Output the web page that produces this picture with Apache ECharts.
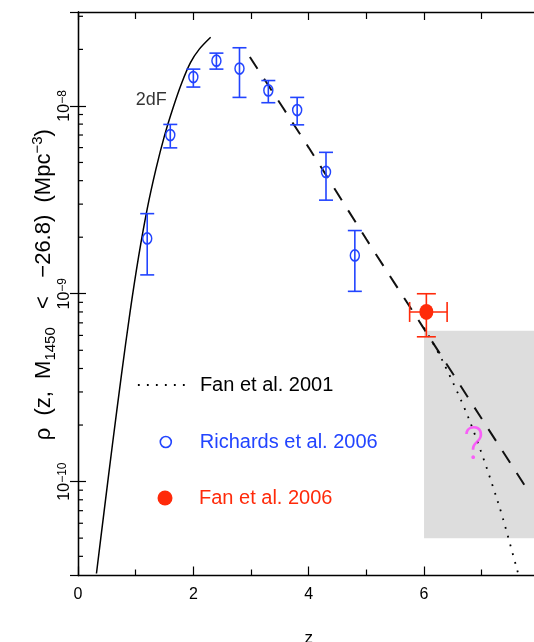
<!DOCTYPE html>
<html><head><meta charset="utf-8">
<script src="https://cdn.jsdelivr.net/npm/echarts@6/dist/echarts.min.js"></script>
<style>html,body{margin:0;padding:0;background:#fff;}#c{width:534px;height:642px;}</style>
</head><body><div id="c"></div>
<script>
// ---- data ----
const curve2dfZ   = [0.32, 0.45, 0.6, 0.75, 0.9, 1.05, 1.2, 1.35, 1.5, 1.65, 1.8, 1.95, 2.1, 2.3];
const curve2dfRho = [3.24e-11, 6.84e-11, 1.60e-10, 3.63e-10, 7.89e-10, 1.57e-9, 2.83e-9, 4.59e-9, 6.95e-9, 9.82e-9, 1.33e-8, 1.70e-8, 2.00e-8, 2.32e-8];

const dashedZ   = [2.98, 4.0, 5.0, 6.0, 7.0, 7.84];
const dashedRho = [1.82e-8, 6.0e-9, 1.95e-9, 6.5e-10, 2.16e-10, 8.6e-11];

const fan2001Z   = [6.0, 6.32, 6.79, 7.28, 7.6, 7.66];
const fan2001Rho = [6.6e-10, 4.4e-10, 2.11e-10, 7.8e-11, 3.52e-11, 3.0e-11];

const richZ   = [1.2, 1.6, 2.0, 2.4, 2.8, 3.3, 3.8, 4.3, 4.8];
const richRho = [1.97e-9, 7.0e-9, 1.425e-8, 1.74e-8, 1.58e-8, 1.21e-8, 9.5e-9, 4.45e-9, 1.6e-9];
const richHi  = [2.67e-9, 7.97e-9, 1.57e-8, 1.91e-8, 2.04e-8, 1.365e-8, 1.11e-8, 5.66e-9, 2.17e-9];
const richLo  = [1.26e-9, 5.98e-9, 1.26e-8, 1.57e-8, 1.11e-8, 1.04e-8, 7.93e-9, 3.15e-9, 1.03e-9];

const fan2006Z   = [6.04];
const fan2006Rho = [8.0e-10];
const fan2006Hi  = [1.0e-9];
const fan2006Lo  = [5.9e-10];
const fan2006ZLo = [5.75];
const fan2006ZHi = [6.4];

const shadeZ   = [6, 8];
const shadeRho = [5.0e-11, 6.36e-10];

const label2dF   = [1.27, 1.08e-8];
const labelQuery = [6.86, 1.51e-10];

const xTicks = [0, 2, 4, 6, 8];
const yMin = Math.pow(10, -10.5), yMax = Math.pow(10, -7.5);
const minorMantissas = [2, 3, 4, 5, 6, 7, 8, 9];
const minorDecades = [-11, -10, -9, -8];

// ---- build ----
const FONT = "'Liberation Sans', Arial, sans-serif";
const BLUE = '#2244ff', RED = '#ff2a0a', MAG = '#ff40ff';

const zip = (a, b) => a.map((v, i) => [v, b[i]]);
const minorVals = [];
minorDecades.forEach(d => minorMantissas.forEach(m => {
  const v = m * Math.pow(10, d);
  if (v > yMin && v < yMax) minorVals.push([xTicks[0], v]);
}));

function errRender(capV, capH, color) {
  return function (params, api) {
    const x = api.value(0), lo = api.value(2), hi = api.value(3);
    const pLo = api.coord([x, lo]), pHi = api.coord([x, hi]);
    const st = { stroke: color, lineWidth: 1.6, fill: null };
    const ch = [
      { type: 'line', shape: { x1: pLo[0], y1: pLo[1], x2: pHi[0], y2: pHi[1] }, style: st },
      { type: 'line', shape: { x1: pLo[0] - capV, y1: pLo[1], x2: pLo[0] + capV, y2: pLo[1] }, style: st },
      { type: 'line', shape: { x1: pHi[0] - capV, y1: pHi[1], x2: pHi[0] + capV, y2: pHi[1] }, style: st }
    ];
    if (capH) {
      const y = api.value(1);
      const pL = api.coord([api.value(4), y]), pR = api.coord([api.value(5), y]);
      ch.push({ type: 'line', shape: { x1: pL[0], y1: pL[1], x2: pR[0], y2: pR[1] }, style: st });
      ch.push({ type: 'line', shape: { x1: pL[0], y1: pL[1] - capH, x2: pL[0], y2: pL[1] + capH }, style: st });
      ch.push({ type: 'line', shape: { x1: pR[0], y1: pR[1] - capH, x2: pR[0], y2: pR[1] + capH }, style: st });
    }
    return { type: 'group', children: ch };
  };
}

const option = {
  animation: false,
  backgroundColor: '#fff',
  grid: { left: 78, top: 12, width: 461.4, height: 563.5, containLabel: false, outerBoundsMode: 'none' },
  xAxis: [
    {
      type: 'value', min: xTicks[0], max: xTicks[xTicks.length - 1], interval: 2,
      name: 'z', nameLocation: 'middle', nameGap: 54, nameMoveOverlap: false,
      nameTextStyle: { fontSize: 17, fontFamily: FONT, color: '#000' },
      axisLine: { lineStyle: { color: '#000', width: 1.3 } },
      axisTick: { inside: true, length: 9, lineStyle: { color: '#000', width: 1.2 } },
      minorTick: { show: true, splitNumber: 2, length: 6, lineStyle: { color: '#000', width: 1.2 } },
      axisLabel: { fontSize: 16, fontFamily: FONT, color: '#000', margin: 11, showMaxLabel: false },
      splitLine: { show: false }, minorSplitLine: { show: false }
    },
    {
      type: 'value', position: 'top', min: xTicks[0], max: xTicks[xTicks.length - 1], interval: 2,
      axisLine: { lineStyle: { color: '#000', width: 1.3 } },
      axisTick: { inside: true, length: 8, lineStyle: { color: '#000', width: 1.2 } },
      minorTick: { show: true, splitNumber: 2, length: 7, lineStyle: { color: '#000', width: 1.2 } },
      axisLabel: { show: false }, splitLine: { show: false }
    }
  ],
  yAxis: [
    {
      type: 'log', logBase: 10, min: yMin, max: yMax,
      name: 'ρ  (z,  M{sub|1450}   <   −26.8)  (Mpc{sup|−3})',
      nameLocation: 'middle', nameGap: 20, nameMoveOverlap: false,
      nameTextStyle: {
        fontSize: 22, fontFamily: FONT, color: '#000', lineHeight: 28, padding: [0, 0, 0, 18],
        rich: {
          sub: { fontSize: 15, lineHeight: 15, verticalAlign: 'bottom', fontFamily: FONT, color: '#000' },
          sup: { fontSize: 15, lineHeight: 15, verticalAlign: 'top', fontFamily: FONT, color: '#000' }
        }
      },
      axisLine: { lineStyle: { color: '#000', width: 1.3 } },
      axisTick: { inside: true, length: 8, lineStyle: { color: '#000', width: 1.2 } },
      axisLabel: {
        rotate: 90, margin: 5, fontSize: 16, fontFamily: FONT, color: '#000', lineHeight: 16,
        showMinLabel: false, showMaxLabel: false,
        rich: { sup: { fontSize: 12, lineHeight: 12, verticalAlign: 'top', fontFamily: FONT, color: '#000' } },
        formatter: function (v) {
          const e = Math.log10(v), r = Math.round(e);
          if (Math.abs(e - r) > 1e-6) return '';
          return '10{sup|−' + (-r) + '}';
        }
      },
      splitLine: { show: false }
    },
    {
      type: 'log', logBase: 10, min: yMin, max: yMax, position: 'right',
      axisLine: { lineStyle: { color: '#000', width: 1.3 } },
      axisTick: { inside: true, length: 8, lineStyle: { color: '#000', width: 1.2 } },
      axisLabel: { show: false }, splitLine: { show: false }
    }
  ],
  legend: [
    {
      data: [{ name: 'Fan et al. 2001', textStyle: { color: '#000' } }],
      left: 137, top: 373, padding: 0, itemWidth: 53, itemHeight: 14, selectedMode: false,
      itemStyle: { color: 'rgba(0,0,0,0)', borderWidth: 0, opacity: 0 },
      lineStyle: { color: '#000', width: 1.8, type: [1.8, 7.2] },
      textStyle: { fontSize: 20, fontFamily: FONT, lineHeight: 24, padding: [0, 0, 0, 4] }
    },
    {
      data: [{ name: 'Richards et al. 2006', textStyle: { color: BLUE } }],
      left: 159.5, top: 430, padding: 0, itemWidth: 11, itemHeight: 12, selectedMode: false,
      itemStyle: { borderWidth: 1.6 },
      textStyle: { fontSize: 20, fontFamily: FONT, lineHeight: 24, padding: [0, 0, 0, 23.5] }
    },
    {
      data: [{ name: 'Fan et al. 2006', textStyle: { color: RED } }],
      left: 157.5, top: 486, padding: 0, itemWidth: 15, itemHeight: 17, selectedMode: false,
      itemStyle: { opacity: 1 },
      textStyle: { fontSize: 20, fontFamily: FONT, lineHeight: 24, padding: [0, 0, 0, 21.5] }
    }
  ],
  series: [
    {
      name: 'shade', type: 'line', data: [], z: 1, silent: true,
      markArea: {
        silent: true,
        itemStyle: { color: '#dddddd' },
        data: [[{ coord: [shadeZ[0], shadeRho[1]] }, { coord: [shadeZ[1], shadeRho[0]] }]]
      }
    },
    {
      name: 'minorTicks', type: 'custom', z: 5, silent: true, data: minorVals,
      renderItem: function (params, api) {
        const p = api.coord([api.value(0), api.value(1)]);
        return { type: 'line', shape: { x1: p[0], y1: p[1], x2: p[0] + 5, y2: p[1] },
                 style: { stroke: '#000', lineWidth: 1.2 } };
      }
    },
    {
      name: '2dF', type: 'line', data: zip(curve2dfZ, curve2dfRho), smooth: 0.3, symbol: 'none',
      z: 3, lineStyle: { color: '#000', width: 1.5 }
    },
    {
      name: 'dashed', type: 'line', data: zip(dashedZ, dashedRho), smooth: 0.3, symbol: 'none',
      z: 3, lineStyle: { color: '#111', width: 2, type: [14, 12] }
    },
    {
      name: 'Fan et al. 2001', type: 'line', data: zip(fan2001Z, fan2001Rho), smooth: 0.3, symbol: 'none',
      z: 3, itemStyle: { color: '#000' }, lineStyle: { color: '#000', width: 1.8, type: [1.8, 7.2] }
    },
    {
      name: 'richErr', type: 'custom', z: 4, silent: true,
      data: richZ.map((z, i) => [z, richRho[i], richLo[i], richHi[i]]),
      encode: { x: 0, y: 1 },
      renderItem: errRender(7, 0, BLUE)
    },
    {
      name: 'Richards et al. 2006', type: 'scatter', z: 6, symbol: 'circle', symbolSize: [9, 11],
      data: zip(richZ, richRho),
      itemStyle: { color: 'rgba(0,0,0,0)', borderColor: BLUE, borderWidth: 1.6, opacity: 1 }
    },
    {
      name: 'fanErr', type: 'custom', z: 4, silent: true,
      data: fan2006Z.map((z, i) => [z, fan2006Rho[i], fan2006Lo[i], fan2006Hi[i], fan2006ZLo[i], fan2006ZHi[i]]),
      encode: { x: 0, y: 1 },
      renderItem: errRender(9.5, 10, RED)
    },
    {
      name: 'Fan et al. 2006', type: 'scatter', z: 6, symbol: 'circle', symbolSize: [14, 16],
      data: zip(fan2006Z, fan2006Rho),
      itemStyle: { color: RED, opacity: 1 }
    },
    {
      name: 'labels', type: 'scatter', z: 7, symbolSize: 0, silent: true,
      data: [
        { value: label2dF, label: { show: true, position: 'inside', formatter: '2dF', fontSize: 18, fontFamily: FONT, color: '#000' } },
        { value: labelQuery, label: { show: true, position: 'inside', formatter: '?', fontSize: 46, fontWeight: 300, fontFamily: "Roboto, Lato, 'Open Sans', sans-serif", color: MAG } }
      ]
    }
  ]
};

const chart = echarts.init(document.getElementById('c'), null, { renderer: 'canvas' });
chart.setOption(option);
</script>
</body></html>
